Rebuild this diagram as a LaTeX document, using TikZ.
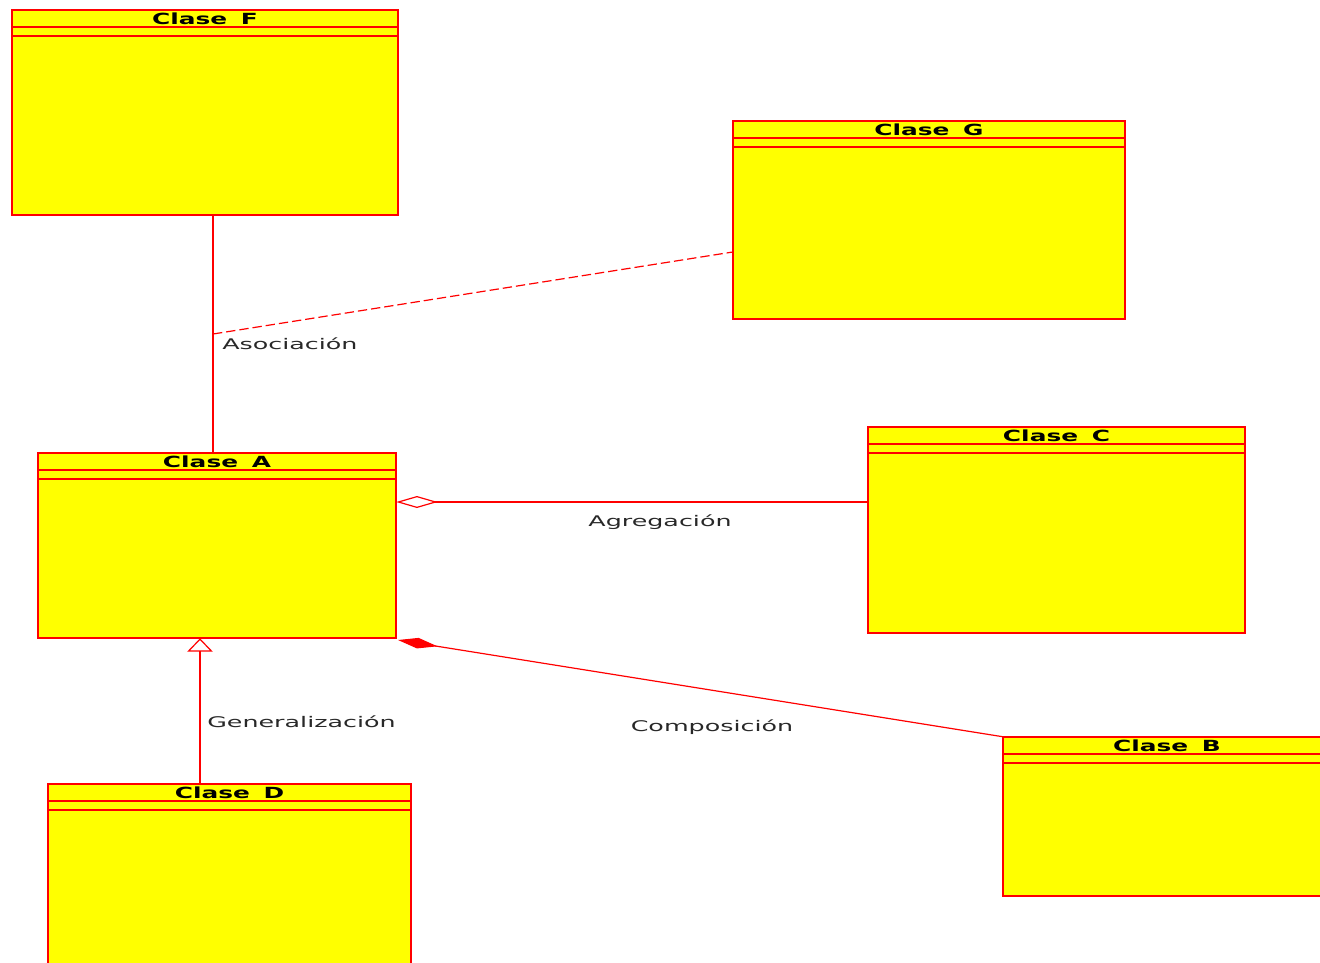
\documentclass[tikz,border=0pt]{standalone}
\usepackage{fontspec}
\setmainfont{DejaVu Sans}
\usetikzlibrary{arrows.meta,fit,calc}
\definecolor{umlred}{RGB}{255,0,0}
\definecolor{umlyel}{RGB}{255,255,0}
\definecolor{labgray}{RGB}{40,40,40}
\newcommand{\hdr}[1]{\scalebox{1.62}[1]{\fontsize{11.5}{13}\selectfont\bfseries #1}}
\newcommand{\lbltext}[1]{\scalebox{1.73}[1]{\fontsize{11}{13}\selectfont #1}}
\newcommand{\umlclass}[6]{%
  \path[classbox] (#2,#3) rectangle (#4,#5);
  \node[inner sep=0pt, fit={(#2,#3) (#4,#5)}] (#1) {};
  \draw[classline] (#2,{#3+17}) -- (#4,{#3+17});
  \draw[classline] (#2,{#3+26}) -- (#4,{#3+26});
  \node[classtitle] at ({(#2+#4)/2},{#3+8.8}) {\hdr{#6}};
}
\tikzset{
  classbox/.style={draw=umlred, fill=umlyel, line width=1pt},
  classline/.style={draw=umlred, line width=0.8pt},
  classtitle/.style={inner sep=0pt, text=black},
  conn/.style={draw=umlred, line width=0.9pt},
  lbl/.style={inner sep=0pt, text=labgray},
}
\begin{document}
\begin{tikzpicture}[x=0.75pt,y=-0.75pt]
\useasboundingbox (0,0) rectangle (1320,963);
\begin{scope}
\clip (0,0) rectangle (1320,963);
\umlclass{F}{12}{10}{398}{215}{Clase\hspace{0.55em}F}
\umlclass{G}{733}{121}{1125}{319}{Clase\hspace{0.55em}G}
\umlclass{A}{38}{453}{396}{638}{Clase\hspace{0.55em}A}
\umlclass{C}{868}{427}{1245}{633}{Clase\hspace{0.55em}C}
\umlclass{B}{1003}{737}{1331}{896}{Clase\hspace{0.55em}B}
\umlclass{D}{48}{784}{411}{975}{Clase\hspace{0.55em}D}

% association
\coordinate (fa) at (213,0);
\coordinate (asc) at (213,334);
\coordinate (gy) at (0,252);
\draw[conn] (F.south -| fa) -- (A.north -| fa);
\draw[conn, dashed, dash pattern=on 7pt off 3pt] (asc) -- (G.west |- gy);
\node[lbl, anchor=west] (lasoc) at (222,344) {\lbltext{Asociación}};

% aggregation
\coordinate (ay) at (0,502);
\draw[conn, -{Diamond[open, length=31pt, width=9pt]}] (C.west |- ay) -- (A.east |- ay);
\node[lbl] (lagr) at (660,522) {\lbltext{Agregación}};

% composition
\coordinate (bc) at (398,640);
\draw[conn, -{Diamond[length=30pt, width=8pt]}] (B.north west) -- (bc);
\node[lbl] (lcomp) at (712,727) {\lbltext{Composición}};

% generalization
\coordinate (gx) at (200,0);
\draw[conn, -{Triangle[open, length=10pt, width=19pt]}] (D.north -| gx) -- (A.south -| gx);
\node[lbl, anchor=west] (lgen) at (207,722) {\lbltext{Generalización}};
\end{scope}
\end{tikzpicture}
\end{document}
